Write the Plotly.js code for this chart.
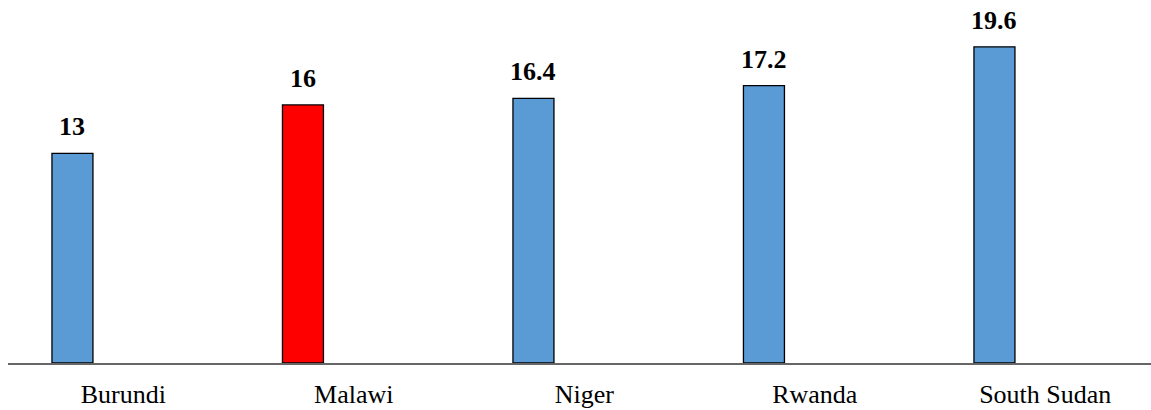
<!DOCTYPE html>
<html>
<head>
<meta charset="utf-8">
<script src="https://cdn.plot.ly/plotly-3.0.1.min.js"></script>
<style>html,body{margin:0;padding:0;background:#fff;}#chart{width:1151px;height:410px;}</style>
</head>
<body>
<div id="chart"></div>
<script>
const countries = ["Burundi", "Malawi", "Niger", "Rwanda", "South Sudan"];
const values = [13, 16, 16.4, 17.2, 19.6];
const barColors = ["#5B9BD5", "#FF0000", "#5B9BD5", "#5B9BD5", "#5B9BD5"];
const valueLabels = ["13", "16", "16.4", "17.2", "19.6"];

const serif = "'Times New Roman', 'Liberation Serif', serif";
const catPx = 230.5;
const barW = 41 / catPx;
const barShift = -50.8 / catPx;

const trace = {
  type: "bar",
  x: countries,
  y: values,
  width: barW,
  offset: barShift - barW / 2,
  marker: { color: barColors, line: { color: "#000000", width: 1.3 } },
  hoverinfo: "skip"
};

const annotations = countries.map((c, i) => ({
  x: c, y: values[i], xref: "x", yref: "y",
  text: "<b>" + valueLabels[i] + "</b>",
  showarrow: false, yanchor: "bottom", xanchor: "center",
  xshift: -50.8, yshift: 10,
  font: { family: serif, size: 26, color: "#000" }
}));

const layout = {
  width: 1151, height: 410,
  margin: { l: 8, r: 0, t: 0, b: 47, pad: 0 },
  paper_bgcolor: "#fff", plot_bgcolor: "#fff",
  showlegend: false,
  font: { family: serif },
  xaxis: {
    type: "category",
    range: [-0.5, -0.5 + 1143 / catPx],
    showline: true, linecolor: "#666666", linewidth: 1.5,
    showgrid: false, zeroline: false, ticks: "",
    tickfont: { family: serif, size: 26, color: "#000" },
    ticklabelstandoff: 7
  },
  yaxis: {
    range: [0, 363 / 16.13],
    visible: false, showgrid: false, zeroline: false
  },
  annotations: annotations
};

Plotly.newPlot("chart", [trace], layout, { staticPlot: true, displayModeBar: false });
</script>
</body>
</html>
